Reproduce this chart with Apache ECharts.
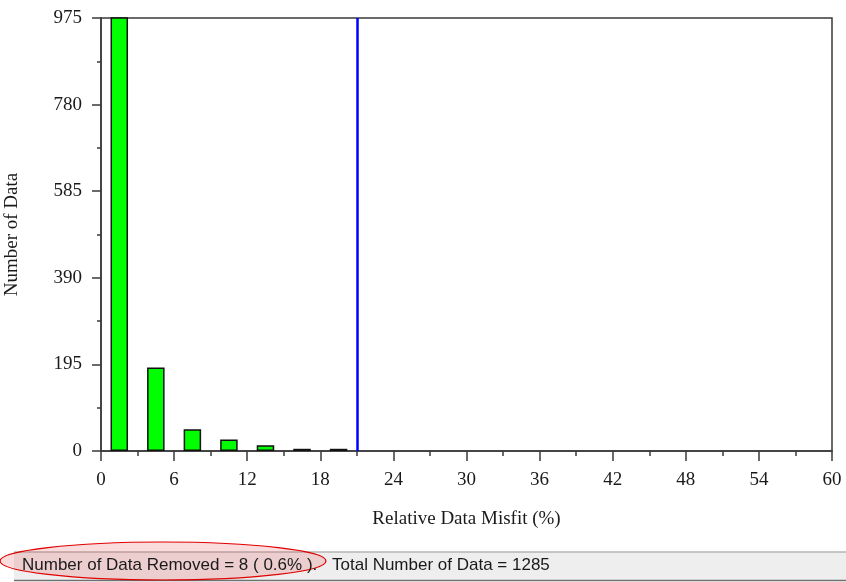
<!DOCTYPE html>
<html>
<head>
<meta charset="utf-8">
<script src="https://cdn.jsdelivr.net/npm/echarts@6/dist/echarts.min.js"></script>
<style>
html,body{margin:0;padding:0;background:#fff;}
#chart{width:846px;height:582px;}
</style>
</head>
<body>
<div id="chart"></div>
<script>
// Data
var binCenters = [1.5, 4.5, 7.5, 10.5, 13.5, 16.5, 19.5];
var counts = [991, 188, 49, 26, 13, 5, 5];
var cutoff = 21;
var xTicks = [0, 6, 12, 18, 24, 30, 36, 42, 48, 54, 60];
var yTicks = [0, 195, 390, 585, 780, 975];
var xTitle = 'Relative Data Misfit (%)';
var yTitle = 'Number of Data';
var statusLeft = 'Number of Data Removed = 8 ( 0.6% ).';
var statusRight = 'Total Number of Data = 1285';

var chart = echarts.init(document.getElementById('chart'), null, {renderer: 'canvas'});
var serif = '"Liberation Serif","Times New Roman",serif';
var axisColor = '#3a3a3a';
var labelColor = '#1a1a1a';

var option = {
  animation: false,
  backgroundColor: '#fff',
  grid: {left: 101, right: 14, top: 18, bottom: 131, containLabel: false, outerBoundsMode: 'none',
    show: true, borderColor: axisColor, borderWidth: 1.5, backgroundColor: '#fff'},
  xAxis: {
    type: 'value', min: xTicks[0], max: xTicks[xTicks.length - 1], interval: xTicks[1] - xTicks[0],
    name: xTitle, nameLocation: 'middle', nameGap: 59,
    nameTextStyle: {fontFamily: serif, fontSize: 19, color: labelColor},
    axisLine: {show: true, onZero: false, lineStyle: {color: axisColor, width: 1.5}},
    axisTick: {show: true, inside: false, length: 10, lineStyle: {color: axisColor, width: 1.5}},
    minorTick: {show: true, splitNumber: 2, length: 5, lineStyle: {color: axisColor, width: 1.5}},
    axisLabel: {fontFamily: serif, fontSize: 19, color: labelColor, margin: 20},
    splitLine: {show: false}
  },
  yAxis: {
    type: 'value', min: yTicks[0], max: yTicks[yTicks.length - 1], interval: yTicks[1] - yTicks[0],
    name: yTitle, nameLocation: 'middle', nameGap: 79,
    nameTextStyle: {fontFamily: serif, fontSize: 19, color: labelColor},
    axisLine: {show: true, lineStyle: {color: axisColor, width: 1.5}},
    axisTick: {show: true, inside: false, length: 9, lineStyle: {color: axisColor, width: 1.5}},
    minorTick: {show: true, splitNumber: 2, length: 4, lineStyle: {color: axisColor, width: 1.5}},
    axisLabel: {fontFamily: serif, fontSize: 19, color: labelColor, margin: 19},
    splitLine: {show: false}
  },
  series: [{
    type: 'bar',
    data: binCenters.map(function (c, i) { return [c, counts[i]]; }),
    barWidth: 17.5,
    clip: true,
    itemStyle: {color: '#00ff00', borderColor: '#111', borderWidth: 1.5},
    markLine: {
      silent: true, symbol: ['none', 'none'], label: {show: false},
      lineStyle: {color: '#0000ff', width: 2.5, type: 'solid'},
      data: [{xAxis: cutoff}]
    }
  }],
  graphic: [
    {type: 'rect', shape: {x: 14, y: 552, width: 832, height: 29}, style: {fill: '#eeeeee'}, z: 1},
    {type: 'line', shape: {x1: 14, y1: 552, x2: 846, y2: 552}, style: {stroke: '#b4b4b4', lineWidth: 1.5}, z: 2},
    {type: 'line', shape: {x1: 14, y1: 580.5, x2: 846, y2: 580.5}, style: {stroke: '#707070', lineWidth: 1.5}, z: 2},
    {type: 'ellipse', shape: {cx: 163, cy: 561, rx: 163, ry: 19}, style: {fill: 'rgba(230,60,60,0.18)', stroke: '#e00000', lineWidth: 1.2}, z: 3},
    {type: 'text', left: 22, top: 557, style: {text: statusLeft, font: '17px "Liberation Sans", Arial, sans-serif', fill: '#1a1a1a'}, z: 4},
    {type: 'text', left: 332, top: 557, style: {text: statusRight, font: '17px "Liberation Sans", Arial, sans-serif', fill: '#1a1a1a'}, z: 4}
  ]
};
chart.setOption(option);
</script>
</body>
</html>
